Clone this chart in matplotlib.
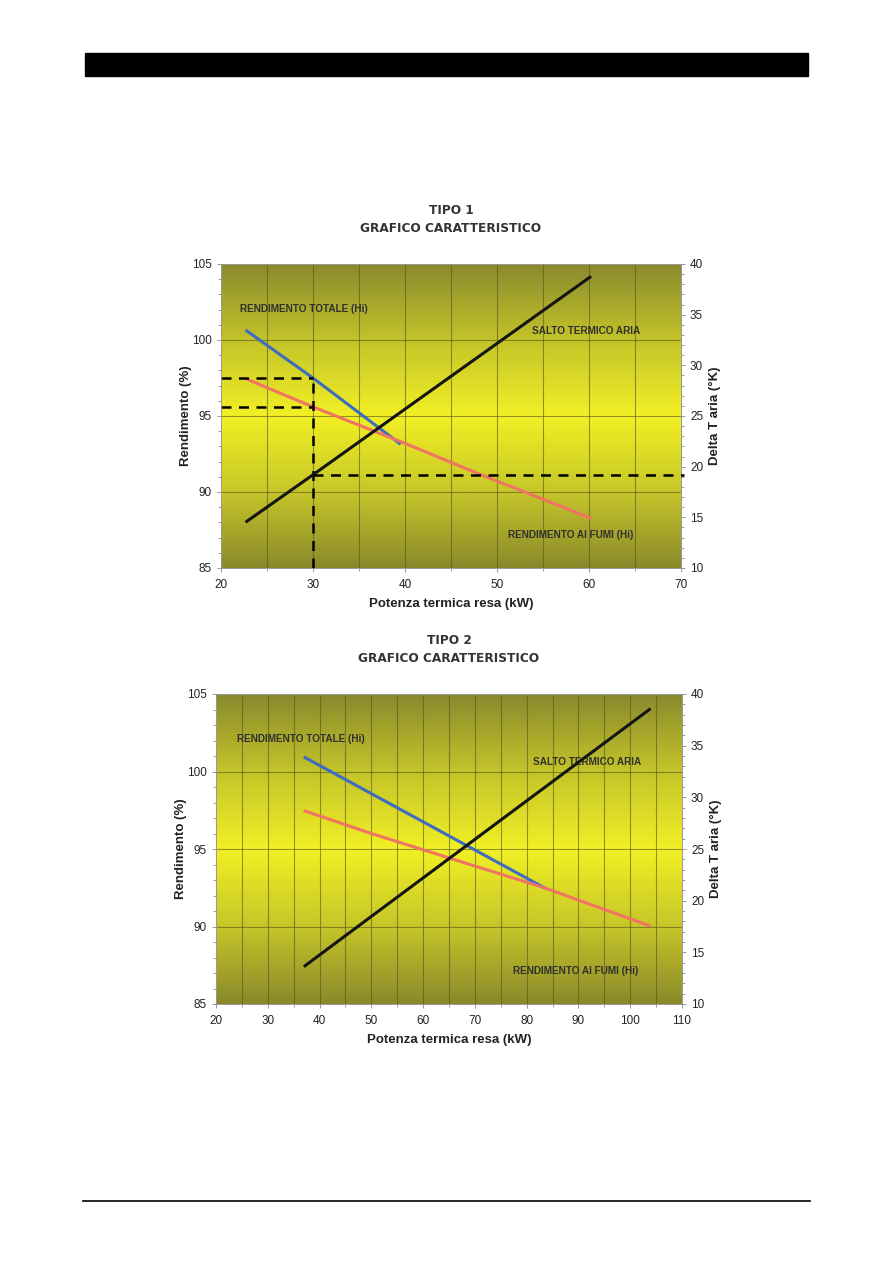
import numpy as np
import matplotlib
matplotlib.use('Agg')
import matplotlib.pyplot as plt
from matplotlib.colors import LinearSegmentedColormap
from matplotlib.patches import Rectangle
from matplotlib.lines import Line2D

plt.rcParams['font.family'] = ['Liberation Sans', 'DejaVu Sans']

# --- dati TIPO 1 ---
t1_tot_x = [22.8, 30, 39.4]
t1_tot_y = [100.6, 97.5, 93.2]
t1_fumi_x = [22.9, 30, 40, 48, 60.1]
t1_fumi_y = [97.4, 95.6, 93.2, 91.2, 88.3]
t1_salto_x = [22.8, 30, 60.1]
t1_salto_k = [14.6, 19.2, 38.7]
t1_dash_rend = [97.5, 95.6]     # linee guida orizzontali (%)
t1_dash_x = 30                  # linea guida verticale (kW)
t1_dash_k = 19.2                # linea guida orizzontale (°K)

# --- dati TIPO 2 ---
t2_tot_x = [37.2, 83.4]
t2_tot_y = [100.9, 92.5]
t2_fumi_x = [37.2, 50, 70, 83.4, 103.7]
t2_fumi_y = [97.45, 96.0, 93.9, 92.5, 90.05]
t2_salto_x = [37.2, 103.7]
t2_salto_k = [13.7, 38.5]

y_ticks = [85, 90, 95, 100, 105]
k_ticks = [10, 15, 20, 25, 30, 35, 40]

bg = LinearSegmentedColormap.from_list('bg', ['#8a8a2e', '#c4c42a', '#f2f024', '#c6c62a', '#8a892a'])


def draw_chart(pos, xlim, xstep, title_y, nome, tot, fumi, salto, labels):
    ax = fig.add_axes(pos)
    grad = np.linspace(0, 1, 256).reshape(-1, 1)
    ax.imshow(grad, cmap=bg, aspect='auto', extent=[xlim[0], xlim[1], 85, 105],
              origin='upper', zorder=0)
    ax.set_xlim(xlim)
    ax.set_ylim(85, 105)
    ax.set_xticks(np.arange(xlim[0], xlim[1] + 1, xstep))
    ax.set_xticks(np.arange(xlim[0], xlim[1] + 1, 5), minor=True)
    ax.set_yticks(y_ticks)
    ax.set_yticks(np.arange(85, 106, 1), minor=True)
    for v in np.arange(xlim[0] + 5, xlim[1], 5):
        ax.axvline(v, color='#55551e', lw=0.8, alpha=0.6, zorder=1)
    for v in [90, 95, 100]:
        ax.axhline(v, color='#55551e', lw=0.8, alpha=0.6, zorder=1)
    ax.tick_params(which='both', colors='#888888', labelcolor='#222222', labelsize=8.5,
                   length=3, width=0.6, direction='out')
    ax.tick_params(axis='x', pad=5)
    ax.tick_params(which='minor', length=2.5)
    for s in ax.spines.values():
        s.set_color('#999999')
        s.set_linewidth(0.6)

    ax.plot(tot[0], tot[1], color='#3d6cc0', lw=2.2, zorder=3)
    ax.plot(fumi[0], fumi[1], color='#f07462', lw=2.2, zorder=3)

    ax2 = ax.twinx()
    ax2.set_ylim(10, 40)
    ax2.set_yticks(k_ticks)
    ax2.set_yticks(np.arange(10, 41, 1), minor=True)
    ax2.tick_params(which='both', colors='#888888', labelcolor='#222222', labelsize=8.5,
                    length=3, width=0.6, direction='out')
    ax2.tick_params(which='minor', length=2.5)
    for s in ax2.spines.values():
        s.set_color('#999999')
        s.set_linewidth(0.6)
    ax2.plot(salto[0], salto[1], color='#151515', lw=2.2, zorder=3)

    ax.set_xlabel('Potenza termica resa (kW)', fontsize=9.5, fontweight='bold',
                  color='#222222', labelpad=5)
    ax.set_ylabel('Rendimento (%)', fontsize=9.5, fontweight='bold', color='#222222',
                  labelpad=0)
    ax2.set_ylabel('Delta T aria (°K)', fontsize=9.5, fontweight='bold', color='#222222',
                   labelpad=4)

    for txt, lx, ly in labels:
        ax.text(lx, ly, txt, fontsize=7.2, fontweight='bold', color='#303030',
                ha='center', va='center', zorder=4)

    cx = pos[0] + pos[2] / 2
    fig.text(cx, title_y, 'TIPO ' + nome, fontsize=8.7, fontweight='bold',
             family='DejaVu Sans', color='#333333', ha='center', va='center')
    fig.text(cx, title_y - 17 / 1263, 'GRAFICO CARATTERISTICO', fontsize=8.7,
             fontweight='bold', family='DejaVu Sans', color='#333333', ha='center',
             va='center')
    return ax, ax2


fig = plt.figure(figsize=(8.93, 12.63), dpi=100)
fig.patch.set_facecolor('white')

# barra nera in alto e linea in basso
fig.add_artist(Rectangle((85 / 893, 1 - 76 / 1263), 723 / 893, 23 / 1263,
                         transform=fig.transFigure, color='black'))
fig.add_artist(Line2D([83 / 893, 810 / 893], [1 - 1201 / 1263] * 2,
                      transform=fig.transFigure, color='black', lw=1.2))

ax, ax2 = draw_chart([221 / 893, 1 - 568 / 1263, 460 / 893, 304 / 1263], (20, 70), 10,
                     1 - 211 / 1263, '1',
                     (t1_tot_x, t1_tot_y), (t1_fumi_x, t1_fumi_y), (t1_salto_x, t1_salto_k),
                     [('RENDIMENTO TOTALE (Hi)', 29.0, 102.05),
                      ('SALTO TERMICO ARIA', 59.7, 100.6),
                      ('RENDIMENTO AI FUMI (Hi)', 58.0, 87.2)])
# linee guida tratteggiate
dash = dict(color='black', lw=1.8, ls=(0, (4, 3)), zorder=5, clip_on=False)
for r in t1_dash_rend:
    ax.plot([20, t1_dash_x], [r, r], **dash)
ax.plot([t1_dash_x, t1_dash_x], [85, t1_dash_rend[0]], **dash)
ax2.plot([t1_dash_x, 70.3], [t1_dash_k, t1_dash_k], **dash)

draw_chart([216 / 893, 1 - 1004 / 1263, 466 / 893, 310 / 1263], (20, 110), 10,
           1 - 641 / 1263, '2',
           (t2_tot_x, t2_tot_y), (t2_fumi_x, t2_fumi_y), (t2_salto_x, t2_salto_k),
           [('RENDIMENTO TOTALE (Hi)', 36.3, 102.1),
            ('SALTO TERMICO ARIA', 91.7, 100.6),
            ('RENDIMENTO AI FUMI (Hi)', 89.5, 87.1)])

fig.savefig('out.png', dpi=100)
